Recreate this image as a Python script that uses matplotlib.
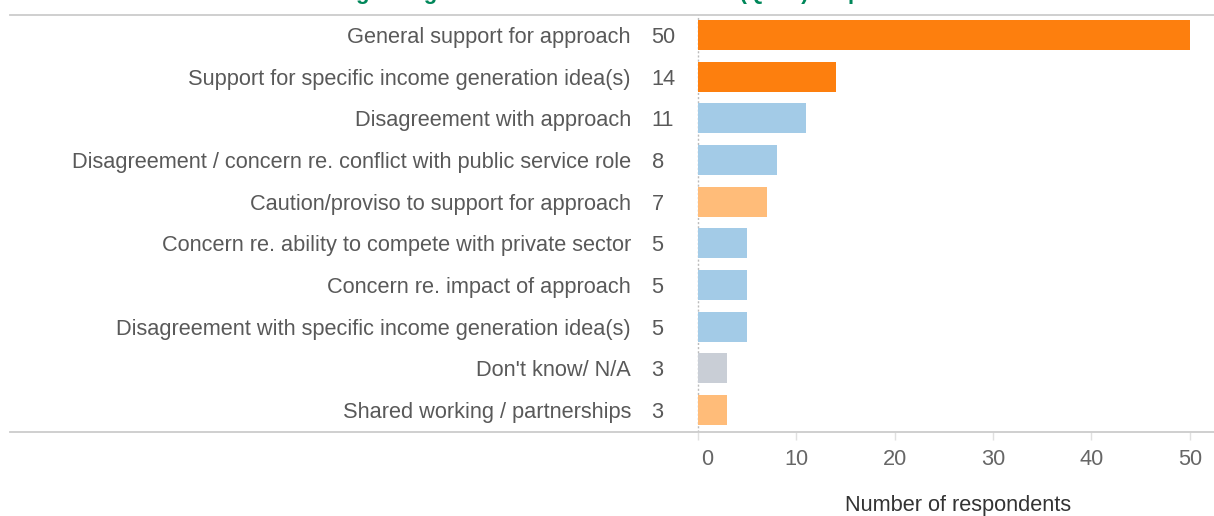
import matplotlib.pyplot as plt
import matplotlib.transforms as mtransforms

# responses per theme, top to bottom
categorias = [
    "General support for approach",
    "Support for specific income generation idea(s)",
    "Disagreement with approach",
    "Disagreement / concern re. conflict with public service role",
    "Caution/proviso to support for approach",
    "Concern re. ability to compete with private sector",
    "Concern re. impact of approach",
    "Disagreement with specific income generation idea(s)",
    "Don't know/ N/A",
    "Shared working / partnerships",
]
valores = [50, 14, 11, 8, 7, 5, 5, 5, 3, 3]
grupos = ["apoyo", "apoyo", "desacuerdo", "desacuerdo", "matiz",
          "desacuerdo", "desacuerdo", "desacuerdo", "nsnc", "matiz"]
ticks_x = [0, 10, 20, 30, 40, 50]

colores = {
    "apoyo": "#FD7F0E",
    "desacuerdo": "#A3CBE7",
    "matiz": "#FFBC79",
    "nsnc": "#C9CED6",
}

plt.rcParams['font.family'] = ['Liberation Sans', 'DejaVu Sans']

fig = plt.figure(figsize=(12.14, 5.16), dpi=100)
ax = fig.add_axes([10 / 1214, 1 - 432 / 516, 1 - 10 / 1214, (432 - 15) / 516])

filas = list(range(len(categorias)))
ax.barh(filas, valores, height=0.72, color=[colores[g] for g in grupos])

for i, (cat, val) in enumerate(zip(categorias, valores)):
    ax.text(-6.8, i, cat, ha='right', va='center_baseline', fontsize=15.7, color='#595959')
    ax.text(-4.7, i, str(val), ha='left', va='center_baseline', fontsize=15.7, color='#595959')

ax.set_xlim(-69.9, 52.45)
ax.set_ylim(9.53, -0.48)

# linea punteada en cero
ax.axvline(0, color='#bbbbbb', linestyle=(0, (1.5, 1.5)), linewidth=1, zorder=0)

ax.set_xticks(ticks_x)
ax.set_xticklabels([str(t) for t in ticks_x])
ax.tick_params(axis='x', colors='#e0e0e0', length=6, width=1, labelcolor='#666666',
               labelsize=15.7, pad=6)
ax.set_yticks([])

# el "0" va corrido a la derecha
desplazo = mtransforms.ScaledTranslation(9 / 100, 0, fig.dpi_scale_trans)
etiqueta_cero = ax.get_xticklabels()[0]
etiqueta_cero.set_transform(etiqueta_cero.get_transform() + desplazo)

for lado in ['left', 'right']:
    ax.spines[lado].set_visible(False)
for lado in ['top', 'bottom']:
    ax.spines[lado].set_color('#cccccc')
    ax.spines[lado].set_linewidth(1.3)

fig.text(958 / 1214, 1 - 505 / 516, "Number of respondents", ha='center', va='center',
         fontsize=15.7, color='#333333')

# titulo (queda recortado por arriba)
fig.text(245 / 1214, 1 + 0.5 / 516,
         "Themes regarding the council's income model (Q10a) responses",
         ha='left', va='baseline', fontsize=16, fontweight='bold', color='#00875A')

fig.savefig('out.png', dpi=100)
